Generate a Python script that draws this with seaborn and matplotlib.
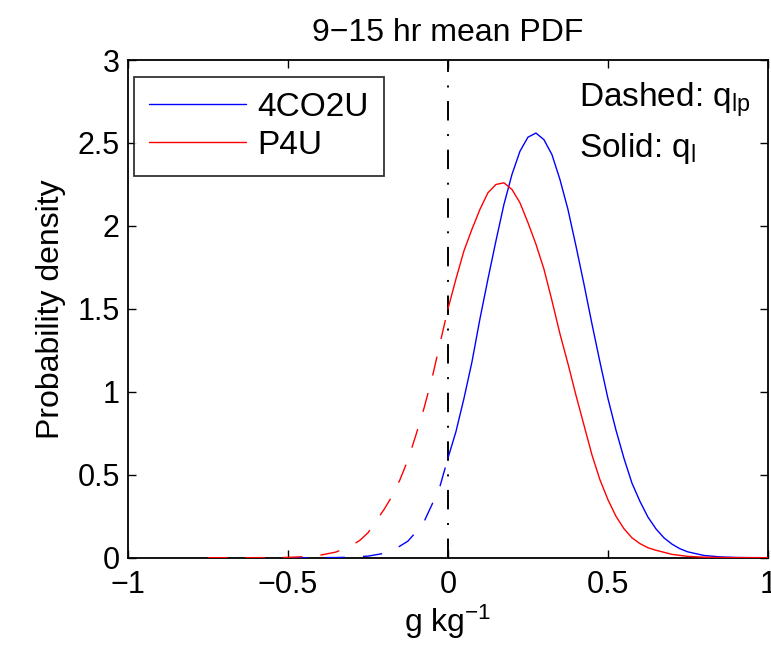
import numpy as np
import pandas as pd
import seaborn as sns
import matplotlib.pyplot as plt

# PDF values (9-15 hr mean)
x_blue = [-0.5, -0.45, -0.4, -0.35, -0.3, -0.25, -0.2, -0.175, -0.15, -0.125,
          -0.1, -0.075, -0.05, -0.025, 0.0, 0.025, 0.05, 0.075, 0.1, 0.125,
          0.15, 0.175, 0.2, 0.225, 0.25, 0.275, 0.3, 0.325, 0.35, 0.375,
          0.4, 0.425, 0.45, 0.475, 0.5, 0.525, 0.55, 0.575, 0.6, 0.625,
          0.65, 0.675, 0.7, 0.725, 0.75, 0.8, 0.85, 0.9, 0.95, 1.0]
y_blue = [0.0, 0.0001, 0.0002, 0.0009, 0.003, 0.0095, 0.026, 0.042, 0.07, 0.10,
          0.155, 0.216, 0.32, 0.43, 0.60, 0.76, 0.96, 1.18, 1.44, 1.68,
          1.91, 2.13, 2.31, 2.45, 2.535, 2.56, 2.52, 2.43, 2.28, 2.10,
          1.88, 1.65, 1.41, 1.18, 0.96, 0.77, 0.60, 0.45, 0.34, 0.245,
          0.174, 0.12, 0.082, 0.054, 0.035, 0.0135, 0.005, 0.0015, 0.0004, 0.0001]

x_red = [-0.75, -0.7, -0.65, -0.6, -0.55, -0.5, -0.45, -0.4, -0.35, -0.3,
         -0.275, -0.25, -0.225, -0.2, -0.175, -0.15, -0.125, -0.1, -0.075, -0.05,
         -0.025, 0.0, 0.025, 0.05, 0.075, 0.1, 0.125, 0.15, 0.175, 0.2,
         0.225, 0.25, 0.275, 0.3, 0.325, 0.35, 0.375, 0.4, 0.425, 0.45,
         0.475, 0.5, 0.525, 0.55, 0.575, 0.6, 0.625, 0.65, 0.7, 0.75,
         0.8, 0.85, 0.9, 0.95, 1.0]
y_red = [0.0, 0.0, 0.0001, 0.0002, 0.0007, 0.002, 0.006, 0.015, 0.034, 0.075,
         0.105, 0.15, 0.22, 0.29, 0.37, 0.47, 0.59, 0.74, 0.90, 1.08,
         1.29, 1.50, 1.68, 1.85, 1.98, 2.10, 2.20, 2.25, 2.26, 2.22,
         2.14, 2.02, 1.89, 1.74, 1.55, 1.35, 1.17, 0.98, 0.80, 0.62,
         0.47, 0.35, 0.25, 0.175, 0.12, 0.085, 0.06, 0.045, 0.02, 0.008,
         0.003, 0.001, 0.0003, 0.0001, 0.0]

runs = ['4CO2U', 'P4U']
colors = ['#0000ff', '#ff0000']
x_ticks = [-1, -0.5, 0, 0.5, 1]
x_ticklabels = ['\u22121', '\u22120.5', '0', '0.5', '1']
y_ticks = [0, 0.5, 1, 1.5, 2, 2.5, 3]
y_ticklabels = ['0', '0.5', '1', '1.5', '2', '2.5', '3']

sns.set_style('white')
plt.rcParams['font.family'] = ['Liberation Sans', 'DejaVu Sans']
plt.rcParams['mathtext.fontset'] = 'custom'
plt.rcParams['mathtext.rm'] = 'Liberation Sans'
plt.rcParams['mathtext.it'] = 'Liberation Sans'
plt.rcParams['xtick.direction'] = 'in'
plt.rcParams['ytick.direction'] = 'in'
plt.rcParams['text.color'] = 'black'
plt.rcParams['axes.labelcolor'] = 'black'
plt.rcParams['xtick.color'] = 'black'
plt.rcParams['ytick.color'] = 'black'

fig = plt.figure(figsize=(7.71, 6.6), dpi=100)
ax = fig.add_axes([0.166, 0.155, 0.830, 0.754])

for name, col, xs, ys in [(runs[0], colors[0], x_blue, y_blue),
                          (runs[1], colors[1], x_red, y_red)]:
    df = pd.DataFrame({'x': xs, 'y': ys})
    neg = df[df['x'] <= 0]
    pos = df[df['x'] >= 0]
    sns.lineplot(data=neg, x='x', y='y', color=col, lw=1.0, ax=ax,
                 linestyle=(0, (14, 13)), sort=False, zorder=3)
    sns.lineplot(data=pos, x='x', y='y', color=col, lw=1.0, ax=ax,
                 label=name, sort=False, zorder=3)

# threshold line at zero
ax.axvline(0, color='black', lw=1.4, linestyle=(0, (10, 7, 1, 7)), zorder=2)

ax.set_xlim(-1, 1)
ax.set_ylim(0, 3)
ax.set_xticks(x_ticks)
ax.set_xticklabels(x_ticklabels)
ax.set_yticks(y_ticks)
ax.set_yticklabels(y_ticklabels)
ax.tick_params(labelsize=22, length=6, width=1, top=True, right=True,
               bottom=True, left=True, colors='black')
ax.tick_params(axis='x', pad=9)
ax.tick_params(axis='y', pad=6)
for s in ax.spines.values():
    s.set_linewidth(1.3)
    s.set_color('black')

ax.set_title('9\u221215 hr mean PDF', fontsize=23, pad=14, color='black')
ax.set_xlabel('g kg$^{\u22121}$', fontsize=23, labelpad=2)
ax.set_ylabel('Probability density', fontsize=23, labelpad=8)

ax.text(0.41, 2.717, 'Dashed: q$_{\\mathregular{lp}}$', fontsize=24, va='baseline')
ax.text(0.41, 2.416, 'Solid: q$_{\\mathregular{l}}$', fontsize=24, va='baseline')

leg = ax.legend(loc='upper left', bbox_to_anchor=(0.0094, 0.966),
                borderaxespad=0, fontsize=24, handlelength=2.9,
                frameon=True, fancybox=False, borderpad=0.45,
                labelspacing=0.2, handletextpad=0.35)
leg.get_frame().set_edgecolor('black')
leg.get_frame().set_linewidth(1.3)
for t in leg.get_texts():
    t.set_color('black')

fig.savefig('out.png', dpi=100)
